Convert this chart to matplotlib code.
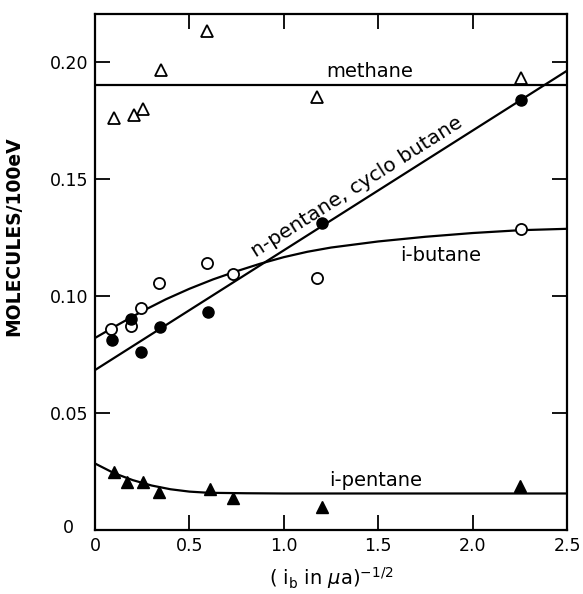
import matplotlib
matplotlib.use("Agg")
import matplotlib.pyplot as plt

# G values (molecules / 100 eV) against inverse square root of beam current
# methane (open triangles)
methane_x = [0.098, 0.207, 0.256, 0.348, 0.594, 1.175, 2.254]
methane_y = [0.1757, 0.1771, 0.1796, 0.1964, 0.2129, 0.1850, 0.1929]
methane_level = 0.190

# n-pentane, cyclo butane (filled circles) + straight fit
npent_x = [0.089, 0.191, 0.242, 0.345, 0.601, 1.204, 2.256]
npent_y = [0.0813, 0.0899, 0.0760, 0.0867, 0.0931, 0.1310, 0.1835]
npent_fit_x = [0.0, 2.5]
npent_fit_y = [0.0683, 0.1961]

# i-butane (open circles) + hand-drawn curve
ibut_x = [0.083, 0.191, 0.246, 0.339, 0.595, 0.729, 1.176, 2.256]
ibut_y = [0.0857, 0.0870, 0.0949, 0.1053, 0.1139, 0.1092, 0.1077, 0.1285]
ibut_curve_x = [0.0, 0.125, 0.25, 0.375, 0.5, 0.625, 0.75, 0.875, 1.0, 1.125,
                1.25, 1.5, 1.75, 2.0, 2.25, 2.5]
ibut_curve_y = [0.0820, 0.0878, 0.0934, 0.0985, 0.1030, 0.1070, 0.1105, 0.1137,
                0.1165, 0.1188, 0.1206, 0.1232, 0.1252, 0.1268, 0.1280, 0.1286]

# i-pentane (filled triangles) + hand-drawn curve
ipent_x = [0.098, 0.167, 0.252, 0.339, 0.611, 0.729, 1.202, 2.250]
ipent_y = [0.0246, 0.0203, 0.0203, 0.0164, 0.0174, 0.0138, 0.0100, 0.0189]
ipent_curve_x = [0.0, 0.1, 0.2, 0.3, 0.4, 0.5, 0.6, 0.8, 1.0, 2.5]
ipent_curve_y = [0.0284, 0.0243, 0.0213, 0.0190, 0.0174, 0.0164, 0.0159, 0.0157,
                 0.0156, 0.0156]

x_ticks = [0, 0.5, 1.0, 1.5, 2.0, 2.5]
x_tick_labels = ["0", "0.5", "1.0", "1.5", "2.0", "2.5"]
y_ticks = [0, 0.05, 0.10, 0.15, 0.20]
y_tick_labels = ["", "0.05", "0.10", "0.15", "0.20"]

plt.rcParams["font.family"] = "DejaVu Sans"

fig = plt.figure(figsize=(5.83, 5.94), dpi=100)
ax = fig.add_axes([0.163, 0.1077, 0.8096, 0.8687])

lw = 1.6
ax.axhline(methane_level, color="black", lw=lw)
ax.plot(npent_fit_x, npent_fit_y, color="black", lw=lw)
ax.plot(ibut_curve_x, ibut_curve_y, color="black", lw=lw)
ax.plot(ipent_curve_x, ipent_curve_y, color="black", lw=lw)

ax.plot(methane_x, methane_y, ls="none", marker="^", ms=8.5, mfc="white",
        mec="black", mew=1.3, zorder=3)
ax.plot(ibut_x, ibut_y, ls="none", marker="o", ms=8, mfc="white",
        mec="black", mew=1.3, zorder=3)
ax.plot(npent_x, npent_y, ls="none", marker="o", ms=8, mfc="black",
        mec="black", zorder=4)
ax.plot(ipent_x, ipent_y, ls="none", marker="^", ms=9, mfc="black",
        mec="black", zorder=4)

# curve labels
ax.text(1.457, 0.1915, "methane", fontsize=14, ha="center", va="bottom")
ax.text(1.386, 0.1466, "n-pentane, cyclo butane", fontsize=14.5,
        ha="center", va="center", rotation=32.4, rotation_mode="anchor")
ax.text(1.615, 0.1174, "i-butane", fontsize=14, ha="left", va="center")
ax.text(1.24, 0.0211, "i-pentane", fontsize=14, ha="left", va="center")

ax.set_xlim(0, 2.5)
ax.set_ylim(0, 0.2203)
ax.set_xticks(x_ticks)
ax.set_xticklabels(x_tick_labels)
ax.set_yticks(y_ticks)
ax.set_yticklabels(y_tick_labels)
ax.text(-0.143, 0.0008, "0", fontsize=12.5, ha="center", va="center", clip_on=False)

ax.tick_params(direction="in", top=True, right=True, length=11, width=1.3,
               labelsize=12.5, pad=5)
for sp in ax.spines.values():
    sp.set_linewidth(1.6)

ax.set_xlabel(r"( i$_\mathregular{b}$ in $\mu$a)$^{-1/2}$", fontsize=14, labelpad=7)
ax.set_ylabel("MOLECULES/100eV", fontsize=13.5, fontweight="bold")
ax.yaxis.set_label_coords(-0.152, 0.57)

fig.savefig("out.png", dpi=100)
